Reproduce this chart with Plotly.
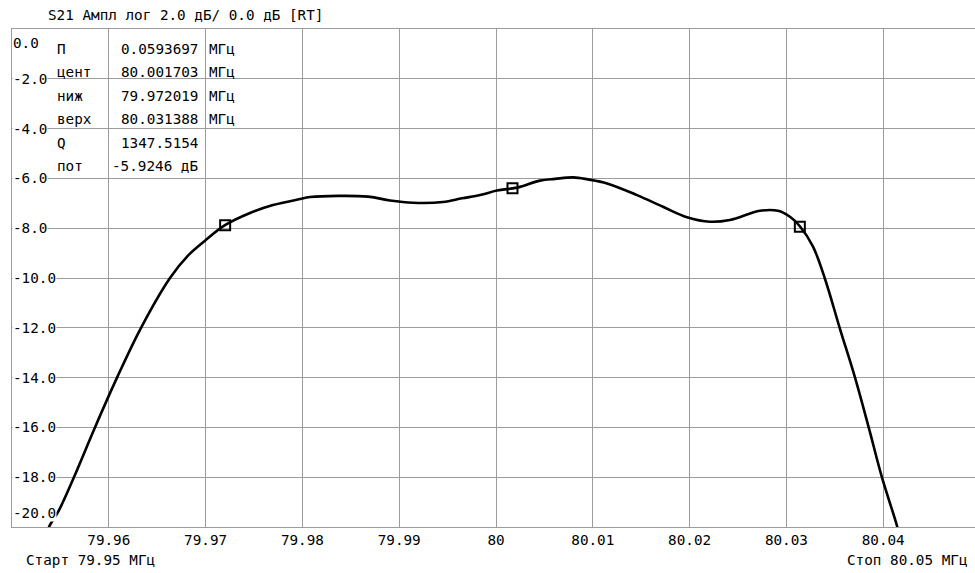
import plotly.graph_objects as go

# ---- data ----
freq_mhz = [79.95350, 79.95382, 79.95486, 79.95640, 79.95857, 79.96085, 79.96333,
            79.96632, 79.96818, 79.96994, 79.97200, 79.97459, 79.97696, 79.97975,
            79.98079, 79.98678, 79.98905, 79.99143, 79.99452, 79.99649, 79.99835,
            80.00010, 80.00170, 80.00248, 80.00455, 80.00610, 80.00800, 80.00950,
            80.01147, 80.01457, 80.01725, 80.01973, 80.02211, 80.02417, 80.02727,
            80.02913, 80.03037, 80.03139, 80.03275, 80.03399, 80.03554, 80.03709,
            80.03853, 80.03985, 80.04140, 80.04170]
s21_db = [-20.40, -20.00, -19.32, -18.00, -16.00, -14.00, -12.00,
          -10.00, -9.10, -8.50, -7.88, -7.39, -7.07, -6.83,
          -6.75, -6.73, -6.89, -6.98, -6.95, -6.80, -6.67,
          -6.49, -6.40, -6.34, -6.09, -6.02, -5.96, -6.04,
          -6.20, -6.67, -7.14, -7.56, -7.74, -7.67, -7.30,
          -7.30, -7.54, -7.92, -8.74, -10.04, -12.05, -14.00,
          -16.04, -17.98, -19.92, -20.40]

marker_freq = [79.972019, 80.001703, 80.031388]
marker_db = [-7.88, -6.40, -7.94]

x_ticks = [79.96, 79.97, 79.98, 79.99, 80.00, 80.01, 80.02, 80.03, 80.04]
x_tick_text = ["79.96", "79.97", "79.98", "79.99", "80", "80.01", "80.02", "80.03", "80.04"]
y_ticks = [0, -2, -4, -6, -8, -10, -12, -14, -16, -18, -20]
y_tick_text = ["0.0", "-2.0", "-4.0", "-6.0", "-8.0", "-10.0", "-12.0", "-14.0",
               "-16.0", "-18.0", "-20.0"]

table_names = ["П", "цент", "ниж", "верх", "Q", "пот"]
table_values = ["0.0593697", "80.001703", "79.972019", "80.031388", "1347.5154", "-5.9246 дБ"]
table_units = ["МГц", "МГц", "МГц", "МГц", "", ""]

title_text = "S21 Ампл лог 2.0 дБ/ 0.0 дБ [RT]"
start_text = "Старт 79.95 МГц"
stop_text = "Стоп 80.05 МГц"

# ---- layout geometry (pixels) ----
W, H = 975, 573
L, R, T, B = 12, 975, 29, 527
FONT = "DejaVu Sans Mono"
FS = 14.3
GRID = "#9c9c9c"


def px(xp):
    return (xp - L) / (R - L)


def py(yp):
    return (B - yp) / (B - T)


fig = go.Figure()
fig.add_trace(go.Scatter(
    x=freq_mhz, y=s21_db, mode="lines",
    line=dict(color="black", width=2.6, shape="spline", smoothing=1.0),
    hoverinfo="skip", showlegend=False))
fig.add_trace(go.Scatter(
    x=marker_freq, y=marker_db, mode="markers",
    marker=dict(symbol="square-open", size=10, color="black",
                line=dict(color="black", width=2)),
    hoverinfo="skip", showlegend=False))

ann = []
# y labels inside plot, white background
for v, t in zip(y_ticks, y_tick_text):
    ys = 0
    if v == 0:
        ys = -14
    elif v == -20:
        ys = 14
    ann.append(dict(x=0, xref="paper", y=v, yref="y", text=t, showarrow=False,
                    xanchor="left", yanchor="middle", xshift=0, yshift=ys,
                    bgcolor="white", borderpad=0,
                    font=dict(family=FONT, size=FS, color="black")))

# marker table
for i, (n, v, u) in enumerate(zip(table_names, table_values, table_units)):
    yy = 49 + 23.4 * i
    ann.append(dict(x=px(55), xref="paper", y=py(yy), yref="paper", text=n,
                    showarrow=False, xanchor="left", yanchor="middle",
                    font=dict(family=FONT, size=FS, color="black")))
    ann.append(dict(x=px(200), xref="paper", y=py(yy), yref="paper", text=v,
                    showarrow=False, xanchor="right", yanchor="middle",
                    font=dict(family=FONT, size=FS, color="black")))
    if u:
        ann.append(dict(x=px(207), xref="paper", y=py(yy), yref="paper", text=u,
                        showarrow=False, xanchor="left", yanchor="middle",
                        font=dict(family=FONT, size=FS, color="black")))

ann.append(dict(x=px(46), xref="paper", y=py(15), yref="paper", text=title_text,
                showarrow=False, xanchor="left", yanchor="middle",
                font=dict(family=FONT, size=FS, color="black")))
ann.append(dict(x=px(24), xref="paper", y=py(560), yref="paper", text=start_text,
                showarrow=False, xanchor="left", yanchor="middle",
                font=dict(family=FONT, size=FS, color="black")))
ann.append(dict(x=px(970), xref="paper", y=py(560), yref="paper", text=stop_text,
                showarrow=False, xanchor="right", yanchor="middle",
                font=dict(family=FONT, size=FS, color="black")))

fig.update_layout(
    width=W, height=H,
    margin=dict(l=L, r=W - R, t=T, b=H - B, pad=0),
    paper_bgcolor="white", plot_bgcolor="white",
    showlegend=False,
    annotations=ann,
    xaxis=dict(range=[79.95, 79.95 + 0.01 * (R - L) / 96.8], tickvals=x_ticks,
               ticktext=x_tick_text, showgrid=True, gridcolor=GRID, gridwidth=1,
               zeroline=False, showline=True, linecolor=GRID, linewidth=1,
               mirror=True, ticks="", tickfont=dict(family=FONT, size=FS, color="black"),
               fixedrange=True),
    yaxis=dict(range=[-20, 0], tickvals=y_ticks, showticklabels=False,
               showgrid=True, gridcolor=GRID, gridwidth=1, zeroline=False,
               showline=True, linecolor=GRID, linewidth=1, mirror=True, ticks="",
               fixedrange=True),
)

fig.write_html(
    "out.html",
    config={"displayModeBar": False},
    post_script="document.body.style.margin='0';document.body.style.padding='0';"
                "document.body.style.overflow='hidden';",
)
